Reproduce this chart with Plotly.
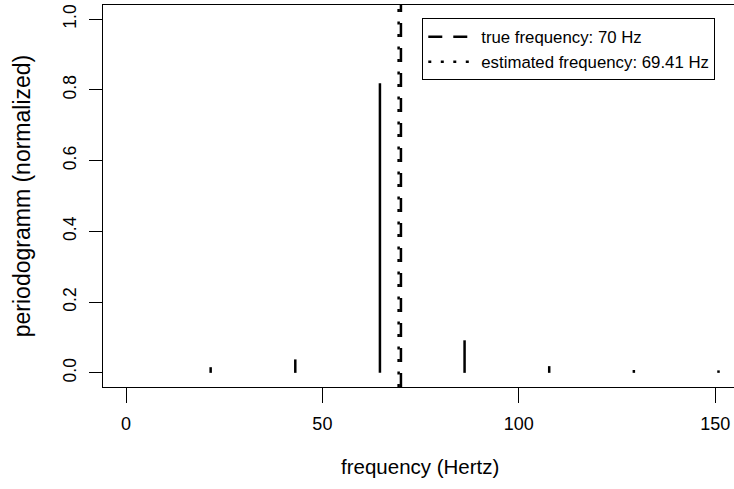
import plotly.graph_objects as go

# ---- data ----
freq_hz = [21.55, 43.1, 64.65, 86.2, 107.75, 129.3, 150.85]
periodogram = [0.016, 0.038, 0.819, 0.092, 0.019, 0.008, 0.007]
true_freq = 70
est_freq = 69.41
x_ticks = [0, 50, 100, 150]
y_ticks = [0.0, 0.2, 0.4, 0.6, 0.8, 1.0]
y_ticklabels = ["0.0", "0.2", "0.4", "0.6", "0.8", "1.0"]
x_range = [-5.86, 154.8]
y_range = [-0.04, 1.04]

FONT = "Liberation Sans, Arial, Helvetica, sans-serif"

# spikes (R type = "h")
xs, ys = [], []
for f, p in zip(freq_hz, periodogram):
    xs += [f, f, None]
    ys += [0, p, None]

fig = go.Figure()
fig.add_trace(go.Scatter(x=xs, y=ys, mode="lines",
                         line=dict(color="black", width=2.5),
                         showlegend=False, hoverinfo="skip"))
fig.add_trace(go.Scatter(x=[true_freq, true_freq], y=y_range, mode="lines",
                         line=dict(color="black", width=2.5, dash="14px,11px"),
                         name=f"true frequency: {true_freq} Hz"))
fig.add_trace(go.Scatter(x=[est_freq, est_freq], y=y_range, mode="lines",
                         line=dict(color="black", width=2.5, dash="3px,9.5px"),
                         name=f"estimated frequency: {est_freq} Hz"))

fig.update_layout(
    template="none",
    width=734, height=489,
    margin=dict(l=103, r=0, t=5, b=102, pad=0),
    paper_bgcolor="white", plot_bgcolor="white",
    font=dict(family=FONT, color="black", size=18),
    showlegend=True,
    legend=dict(x=0.506, y=0.965, xanchor="left", yanchor="top",
                bordercolor="black", borderwidth=1, bgcolor="white",
                font=dict(family=FONT, size=16.8, color="black"),
                itemwidth=48, tracegroupgap=0),
    xaxis=dict(range=x_range, tickvals=x_ticks, ticks="outside", ticklen=15,
               tickwidth=1, tickcolor="black", showline=True, linecolor="black",
               linewidth=1, mirror=True, showgrid=False, zeroline=False,
               tickfont=dict(family=FONT, size=18), ticklabelstandoff=5),
    yaxis=dict(range=y_range, tickvals=y_ticks, ticktext=y_ticklabels,
               tickangle=-90, ticks="outside", ticklen=13, tickwidth=1,
               tickcolor="black", showline=True, linecolor="black", linewidth=1,
               showgrid=False, zeroline=False,
               tickfont=dict(family=FONT, size=17.5), ticklabelstandoff=6),
    annotations=[
        dict(text="frequency (Hertz)", xref="paper", yref="paper",
             x=0.502, y=-0.209, xanchor="center", yanchor="middle",
             showarrow=False, font=dict(family=FONT, size=20.5)),
        dict(text="periodogramm (normalized)", xref="paper", yref="paper",
             x=-0.128, y=0.5, xanchor="center", yanchor="middle", textangle=-90,
             showarrow=False, font=dict(family=FONT, size=23)),
    ],
)

fig.write_html("out.html", config={"displayModeBar": False},
               post_script="document.body.style.margin='0';document.body.style.padding='0';")
